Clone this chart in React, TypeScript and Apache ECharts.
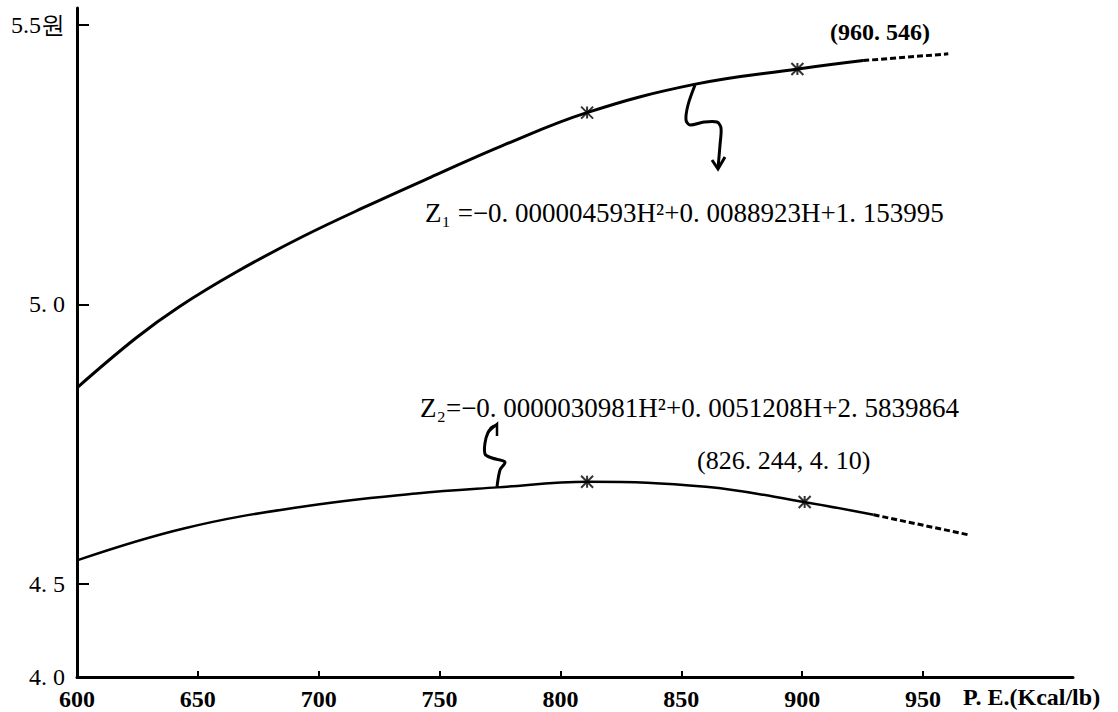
import React, { useEffect, useRef } from "react";
import * as echarts from "echarts";

// Upper curve Z1 (solid part, then dashed extrapolation)
const z1X = [600, 624.4, 642.3, 665.9, 693.2, 721, 748.7, 776, 810.9, 854.8, 898.3, 925.2];
const z1Y = [4.851, 4.94, 4.996, 5.058, 5.121, 5.178, 5.232, 5.284, 5.343, 5.393, 5.421, 5.436];
const z1DashX = [925.2, 960.4];
const z1DashY = [5.436, 5.448];
// Lower curve Z2
const z2X = [600.3, 644.6, 692.4, 740.3, 773.9, 811.5, 860.1, 900.7, 929.5];
const z2Y = [4.543, 4.6, 4.638, 4.662, 4.673, 4.683, 4.674, 4.647, 4.624];
const z2DashX = [929.5, 969];
const z2DashY = [4.624, 4.588];
// Observation marks
const markX = [811, 898, 811, 901];
const markY = [5.343, 5.421, 4.683, 4.647];

const xTicks = [600, 650, 700, 750, 800, 850, 900, 950];
const yTickValues = [4.334, 4.5, 5.0, 5.5];
const yTickLabels = ["4. 0", "4. 5", "5. 0", "5.5원"];

const eq1 = "Z\u2081 =\u22120. 000004593H\u00B2+0. 0088923H+1. 153995";
const eq2 = "Z\u2082=\u22120. 0000030981H\u00B2+0. 0051208H+2. 5839864";
const pt1 = "(960. 546)";
const pt2 = "(826. 244, 4. 10)";
const xName = "P. E.(Kcal/lb)";

const SERIF = "'Liberation Serif', 'DejaVu Serif', serif";

const zip = (xs: number[], ys: number[]) => xs.map((x, i) => [x, ys[i]]);

export default function App() {
  const ref = useRef<HTMLDivElement>(null);
  useEffect(() => {
    if (!ref.current) return;
    const chart = echarts.init(ref.current, undefined, { renderer: "svg" });
    const lineBase = {
      type: "line" as const,
      smooth: 0.4,
      showSymbol: false,
      symbol: "none",
      silent: true,
    };
    chart.setOption({
      animation: false,
      backgroundColor: "#ffffff",
      grid: { left: 77, top: 8, right: 45, bottom: 35 },
      xAxis: {
        type: "value",
        min: 600,
        max: 1012,
        axisLine: { show: true, lineStyle: { color: "#000", width: 3 } },
        axisTick: {
          show: true,
          inside: true,
          length: 6,
          customValues: xTicks,
          lineStyle: { color: "#000", width: 2 },
        },
        axisLabel: {
          customValues: xTicks,
          color: "#000",
          fontFamily: SERIF,
          fontWeight: "bold",
          fontSize: 24,
          margin: 10,
        },
        splitLine: { show: false },
      },
      yAxis: {
        type: "value",
        min: 4.334,
        max: 5.53,
        axisLine: { show: true, lineStyle: { color: "#000", width: 3 } },
        axisTick: {
          show: true,
          inside: true,
          length: 12,
          customValues: yTickValues.slice(1),
          lineStyle: { color: "#000", width: 2 },
        },
        axisLabel: {
          customValues: yTickValues,
          color: "#000",
          fontFamily: SERIF,
          fontSize: 24,
          margin: 12,
          formatter: (v: number) => {
            let best = 0;
            let d = Infinity;
            yTickValues.forEach((t, i) => {
              if (Math.abs(t - v) < d) {
                d = Math.abs(t - v);
                best = i;
              }
            });
            return yTickLabels[best];
          },
        },
        splitLine: { show: false },
      },
      series: [
        { ...lineBase, data: zip(z1X, z1Y), lineStyle: { color: "#000", width: 3 } },
        { ...lineBase, data: zip(z1DashX, z1DashY), smooth: false, lineStyle: { color: "#000", width: 3, type: [6, 3] } },
        { ...lineBase, data: zip(z2X, z2Y), lineStyle: { color: "#000", width: 2.5 } },
        { ...lineBase, data: zip(z2DashX, z2DashY), smooth: false, lineStyle: { color: "#000", width: 3, type: [6, 3] } },
        {
          type: "scatter",
          silent: true,
          data: zip(markX, markY),
          symbol: "path://M0,0L10,10M10,0L0,10M5,0L5,10",
          symbolSize: 12,
          itemStyle: { color: "transparent", borderColor: "#000", borderWidth: 2 },
        },
      ],
      graphic: [
        {
          type: "polyline",
          shape: {
            points: [[695, 85], [688, 105], [686, 120], [690, 125], [704, 122], [717, 122], [721, 128], [720, 145], [718, 168]],
            smooth: 0.3,
          },
          style: { stroke: "#000", lineWidth: 3, fill: "none" },
        },
        {
          type: "polyline",
          shape: { points: [[712, 160], [718, 169], [725, 157]] },
          style: { stroke: "#000", lineWidth: 3, fill: "none" },
        },
        {
          type: "polyline",
          shape: {
            points: [[497, 487], [500, 470], [505, 462], [492, 458], [485, 454], [486, 438], [491, 428], [497, 425]],
            smooth: 0.3,
          },
          style: { stroke: "#000", lineWidth: 3, fill: "none" },
        },
        {
          type: "polyline",
          shape: { points: [[488, 432], [497, 424], [497, 436]] },
          style: { stroke: "#000", lineWidth: 2.5, fill: "none" },
        },
        {
          type: "text",
          x: 425,
          y: 213,
          style: { text: eq1, font: `27px ${SERIF}`, fill: "#000", verticalAlign: "middle" },
        },
        {
          type: "text",
          x: 420,
          y: 408,
          style: { text: eq2, font: `27px ${SERIF}`, fill: "#000", verticalAlign: "middle" },
        },
        {
          type: "text",
          x: 830,
          y: 32,
          style: { text: pt1, font: `bold 24px ${SERIF}`, fill: "#000", verticalAlign: "middle" },
        },
        {
          type: "text",
          x: 697,
          y: 460,
          style: { text: pt2, font: `26px ${SERIF}`, fill: "#000", verticalAlign: "middle" },
        },
        {
          type: "text",
          x: 963,
          y: 697,
          style: { text: xName, font: `bold 24px ${SERIF}`, fill: "#000", verticalAlign: "middle" },
        },
      ],
    });
    return () => chart.dispose();
  }, []);
  return (
    <div
      ref={ref}
      style={{ position: "fixed", left: 0, top: 0, width: 1118, height: 712, background: "#fff" }}
    />
  );
}
